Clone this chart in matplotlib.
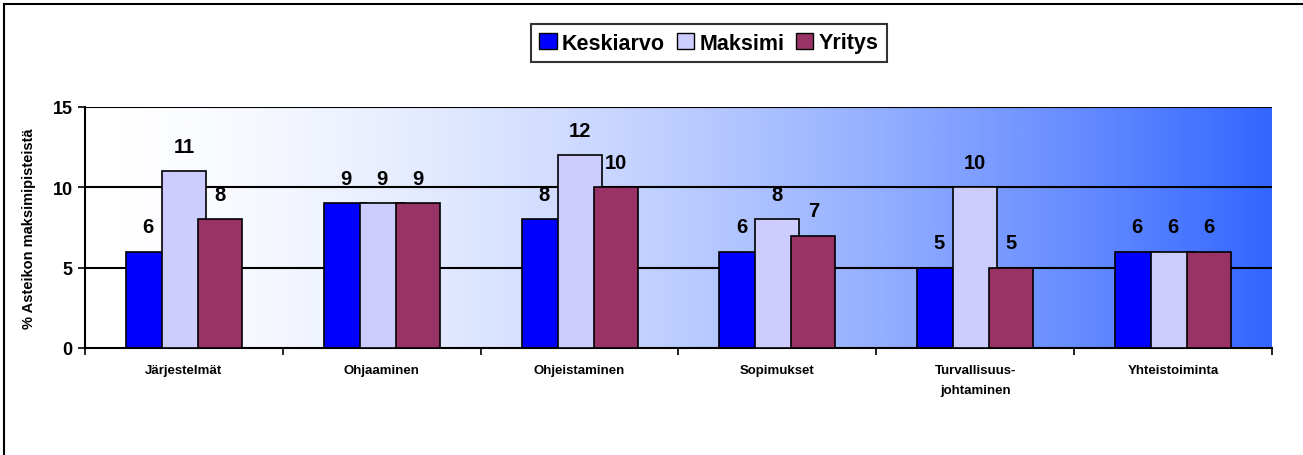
import numpy as np
import matplotlib
matplotlib.use("Agg")
import matplotlib.pyplot as plt
from matplotlib.colors import LinearSegmentedColormap
from matplotlib.lines import Line2D

categories = ["Järjestelmät", "Ohjaaminen", "Ohjeistaminen", "Sopimukset",
              "Turvallisuus-\njohtaminen", "Yhteistoiminta"]
keskiarvo = [6, 9, 8, 6, 5, 6]
maksimi = [11, 9, 12, 8, 10, 6]
yritys = [8, 9, 10, 7, 5, 6]
series_names = ["Keskiarvo", "Maksimi", "Yritys"]
colors = ["#0000FF", "#CCCCFF", "#993366"]

plt.rcParams['font.family'] = ['Liberation Sans', 'DejaVu Sans']

fig = plt.figure(figsize=(13.03, 4.56), dpi=100)
ax = fig.add_axes([85 / 1303, 1 - 349 / 456, (1272 - 85) / 1303, (349 - 108) / 456])

x = np.arange(len(categories))
xmin, xmax = -0.5, len(categories) - 0.5

# background gradient white -> blue (eased, like the original fill)
cmap = LinearSegmentedColormap.from_list("bg", ["#FFFFFF", "#3366FF"])
grad = (np.linspace(0, 1, 512) ** 1.6).reshape(1, -1)
ax.imshow(grad, cmap=cmap, vmin=0, vmax=1, extent=(xmin, xmax, 0, 15),
          aspect="auto", zorder=0)

for yv in [5, 10, 15]:
    ax.axhline(yv, color="black", lw=1.5, zorder=1)

width = 0.222
offset = 0.182
for i, (vals, name, c) in enumerate(zip([keskiarvo, maksimi, yritys], series_names, colors)):
    pos = x + (i - 1) * offset
    ax.bar(pos, vals, width=width, color=c, edgecolor="black", lw=1.2, zorder=2 + i)
    for p, v in zip(pos, vals):
        ax.annotate(str(v), (p, v), xytext=(0, 11), textcoords="offset points",
                    ha="center", va="bottom", fontsize=14.5, fontweight="bold", zorder=6)

ax.set_xlim(xmin, xmax)
ax.set_ylim(0, 15)
ax.set_yticks([0, 5, 10, 15])
ax.set_yticklabels(["0", "5", "10", "15"], fontsize=13, fontweight="bold")
ax.tick_params(axis="y", direction="out", length=5, width=1.2, pad=4)

ax.set_xticks(np.arange(xmin, xmax + 0.01, 1.0))
ax.set_xticklabels([])
ax.tick_params(axis="x", direction="out", length=5, width=1.2)
for xi, lab in zip(x, categories):
    ax.text(xi, -1.0, lab, ha="center", va="top", fontsize=9.5, fontweight="bold",
            linespacing=1.9, transform=ax.transData)

for s in ["top", "right"]:
    ax.spines[s].set_visible(False)
ax.spines["left"].set_linewidth(1.5)
ax.spines["bottom"].set_linewidth(1.5)

ax.set_ylabel("% Asteikon maksimipisteistä", fontsize=10.5, fontweight="bold", labelpad=12)

handles = [plt.Rectangle((0, 0), 1, 1, facecolor=c, edgecolor="black", lw=1) for c in colors]
leg = fig.legend(handles, series_names, loc="center", bbox_to_anchor=(709 / 1303, 1 - 44 / 456),
                 ncol=3, frameon=True, fancybox=False, edgecolor="black",
                 prop={"weight": "bold", "size": 15.5}, handlelength=0.8, handleheight=0.8,
                 handletextpad=0.25, columnspacing=0.55, borderpad=0.4, borderaxespad=0)
leg.get_frame().set_linewidth(1.5)

# outer chart frame
fig.add_artist(Line2D([4 / 1303, 4 / 1303], [0, 1 - 5 / 456], color="black", lw=1.5,
                      transform=fig.transFigure))
fig.add_artist(Line2D([4 / 1303, 1], [1 - 5 / 456, 1 - 5 / 456], color="black", lw=1.5,
                      transform=fig.transFigure))

fig.savefig("out.png", dpi=100)
